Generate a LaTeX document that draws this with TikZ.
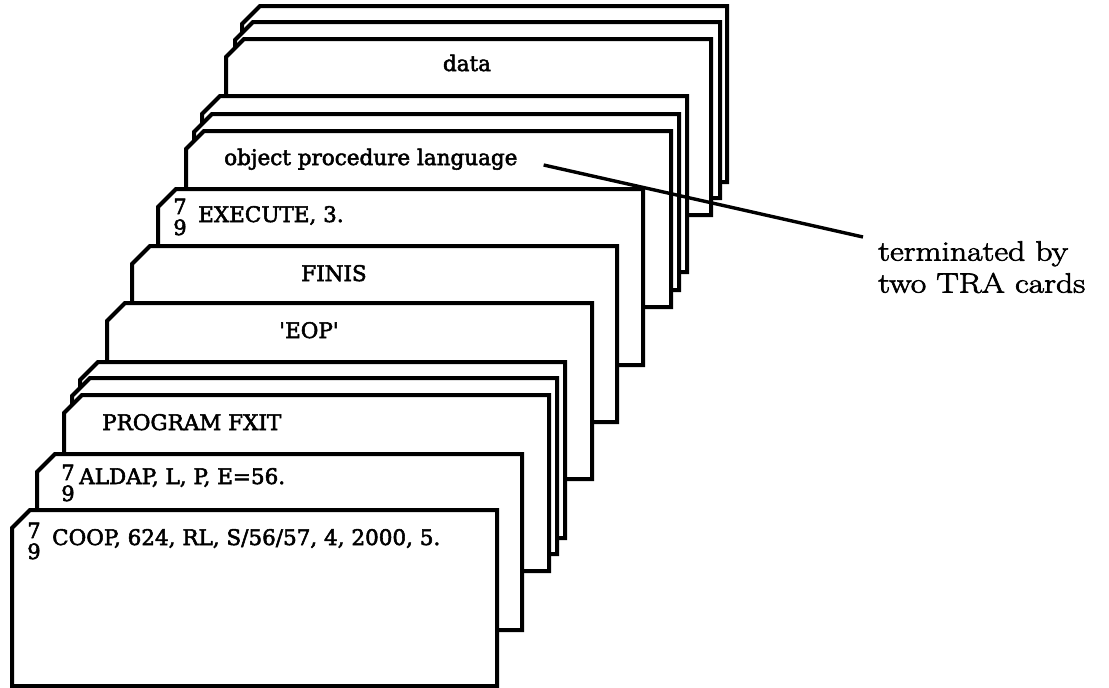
\documentclass[tikz,border=0pt]{standalone}
\usepackage{fontspec}
\usetikzlibrary{positioning}
\newfontfamily\cardfont[FakeBold=2.5]{DejaVu Serif}
\newfontfamily\notefont[FakeStretch=1.2, FakeBold=2.5]{Latin Modern Roman}
\tikzset{%
	card/.style={
		draw,
		fill=white,
		line width=4pt,
		line join=miter
	},
	card text/.style={
		font=\cardfont\fontsize{21.5}{24}\selectfont,
		inner sep=0pt
	},
	punch/.style={
		font=\cardfont\fontsize{21}{21}\selectfont,
		align=center,
		inner sep=0pt
	},
	note/.style={
		font=\notefont\fontsize{28}{32}\selectfont,
		align=left,
		inner sep=0pt
	},
	leader/.style={
		line width=3.4pt
	},
}
\newcommand{\cardat}[2]{%
	\draw[card] (#1+18,#2) -- (#1+485,#2) -- (#1+485,#2+176)
		-- (#1,#2+176) -- (#1,#2+18) -- cycle;}

\begin{document}
\begin{tikzpicture}[x=1pt, y=-1pt]
	\useasboundingbox (0,0) rectangle (1109,688);
	% the deck, from the back card to the front one
	\foreach \cx/\cy in {242/6, 235/22, 226/39,
		202/96, 194/114, 186/131,
		158/189, 132/246, 107/303,
		80/362, 72/378, 64/395,
		37/454, 12/510}
		{\cardat{\cx}{\cy}}
	% what is punched on the cards
	\node[card text, anchor=base] (data) at (467,71) {data};
	\node[card text, anchor=base west] (opl) at (224,165) {object procedure language};
	\node[card text, anchor=base west] (exec) at (198,222) {EXECUTE, 3.};
	\node[card text, anchor=base] (finis) at (334,281) {FINIS};
	\node[card text, anchor=base] (eop) at (309,338) {'EOP'};
	\node[card text, anchor=base west] (prog) at (102,430) {PROGRAM FXIT};
	\node[card text, anchor=base west] (aldap) at (79,484) {ALDAP, L, P, E=56.};
	\node[card text, anchor=base west] (coop) at (52,545) {COOP, 624, RL, S/56/57, 4, 2000, 5.};
	\node[punch] (exec punch) at (180,217) {7\\9};
	\node[punch] (aldap punch) at (68,483) {7\\9};
	\node[punch] (coop punch) at (34,541) {7\\9};
	% remark on the right
	\node[note, anchor=north west] (note) at (878,241) {terminated by\\two TRA cards};
	\coordinate[right=26pt of opl.base east] (lead from);
	\coordinate[above left=4pt and 15pt of note.north west] (lead to);
	\draw[leader] (lead from) -- (lead to);
\end{tikzpicture}
\end{document}
